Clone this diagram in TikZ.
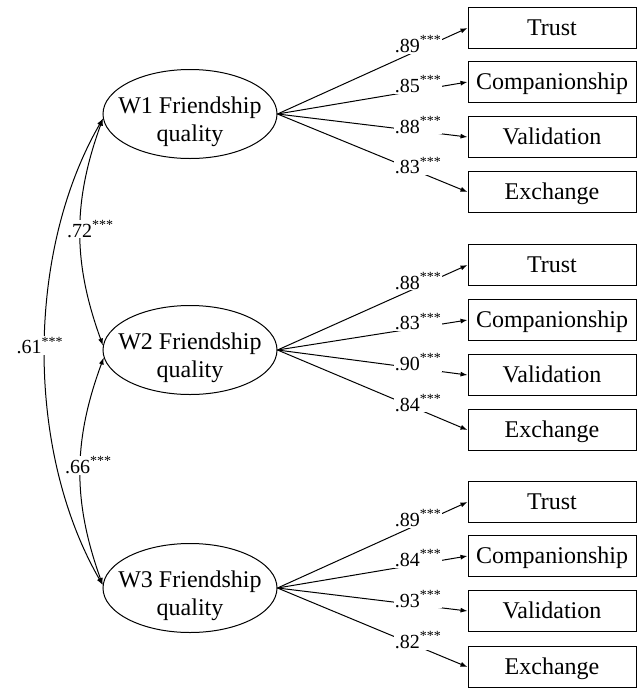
\documentclass[tikz,border=0pt]{standalone}
\usepackage{fontspec}
\setmainfont{Liberation Serif}
\usetikzlibrary{shapes.geometric,arrows.meta}

\begin{document}
\begin{tikzpicture}[x=1pt,y=1pt,line width=1pt,>={Latex[length=7pt,width=5pt]},
    lat/.style={ellipse,draw,minimum width=174pt,minimum
        height=89pt,inner sep=0pt},
    lattext/.style={align=center,font=\fontsize{24}{28}\selectfont,yshift=-8pt},
    ind/.style={rectangle,draw,minimum width=168pt,minimum height=41pt,inner
        sep=0pt,font=\fontsize{24}{28}\selectfont,text height=16pt,text depth=2pt},
    load/.style={pos=.74,anchor=base,yshift=-2pt,fill=white,inner
        sep=1pt,font=\fontsize{20}{24}\selectfont},
    cov/.style={midway,fill=white,inner sep=1pt,font=\fontsize{20}{24}\selectfont}]

    \useasboundingbox (0,0) rectangle (638,-689);

    % the factors

    \node[lat,label={[lattext]center:W1 Friendship\\quality}] (f1) at (190,-114) {};
    \node[lat,label={[lattext]center:W2 Friendship\\quality}] (f2) at (190,-350) {};
    \node[lat,label={[lattext]center:W3 Friendship\\quality}] (f3) at (190,-588) {};

    % the indicators

    \node[ind] (t1) at (552,-28) {Trust};
    \node[ind] (c1) at (552,-82) {Companionship};
    \node[ind] (v1) at (552,-137) {Validation};
    \node[ind] (e1) at (552,-192) {Exchange};

    \node[ind] (t2) at (552,-265) {Trust};
    \node[ind] (c2) at (552,-320) {Companionship};
    \node[ind] (v2) at (552,-375) {Validation};
    \node[ind] (e2) at (552,-430) {Exchange};

    \node[ind] (t3) at (552,-502) {Trust};
    \node[ind] (c3) at (552,-556) {Companionship};
    \node[ind] (v3) at (552,-611) {Validation};
    \node[ind] (e3) at (552,-667) {Exchange};

    % loadings

    \draw[->] (f1.east) to node[load]{.89\textsuperscript{***}} (t1.west);
    \draw[->] (f1.east) to node[load]{.85\textsuperscript{***}} (c1.west);
    \draw[->] (f1.east) to node[load]{.88\textsuperscript{***}} (v1.west);
    \draw[->] (f1.east) to node[load]{.83\textsuperscript{***}} (e1.west);

    \draw[->] (f2.east) to node[load]{.88\textsuperscript{***}} (t2.west);
    \draw[->] (f2.east) to node[load]{.83\textsuperscript{***}} (c2.west);
    \draw[->] (f2.east) to node[load]{.90\textsuperscript{***}} (v2.west);
    \draw[->] (f2.east) to node[load]{.84\textsuperscript{***}} (e2.west);

    \draw[->] (f3.east) to node[load]{.89\textsuperscript{***}} (t3.west);
    \draw[->] (f3.east) to node[load]{.84\textsuperscript{***}} (c3.west);
    \draw[->] (f3.east) to node[load]{.93\textsuperscript{***}} (v3.west);
    \draw[->] (f3.east) to node[load]{.82\textsuperscript{***}} (e3.west);

    % correlations

    \draw[<->] (f1.183) to[bend right=20]
    node[cov,xshift=10pt,yshift=3pt]{.72\textsuperscript{***}} (f2.177);
    \draw[<->] (f2.185) to[bend right=20]
    node[cov,xshift=8pt,yshift=6pt]{.66\textsuperscript{***}} (f3.178);
    \draw[<->] (f1.183) to[bend right=30,looseness=.85]
    node[cov,xshift=-5pt,yshift=6pt]{.61\textsuperscript{***}} (f3.178);
  \end{tikzpicture}
\end{document}
